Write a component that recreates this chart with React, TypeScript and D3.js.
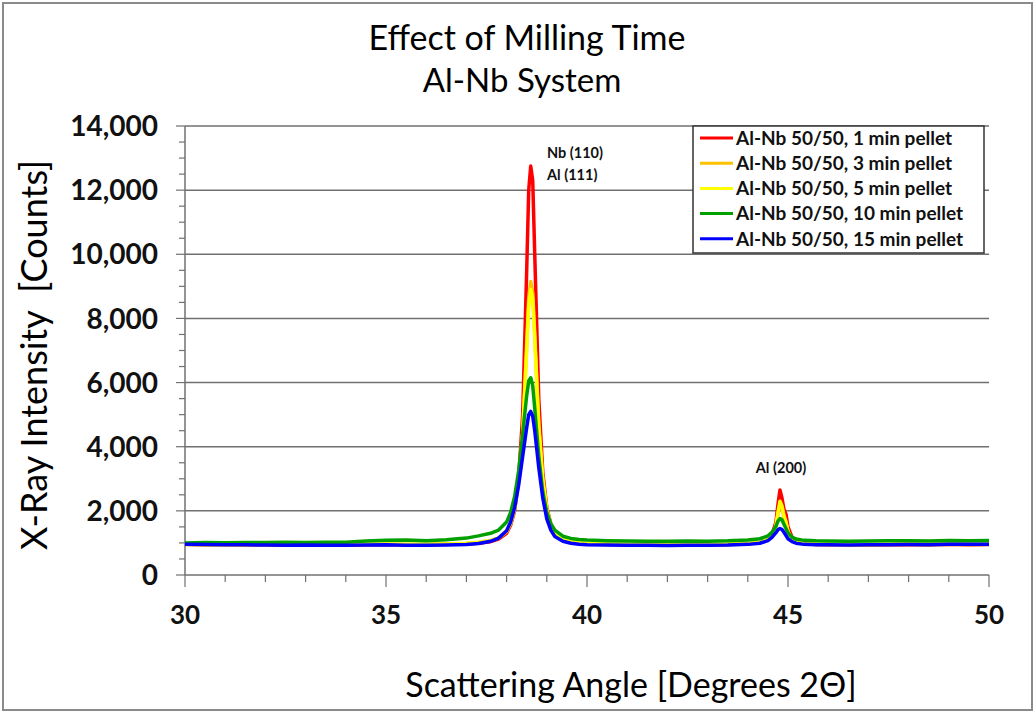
import React from 'react';
import * as d3 from 'd3';

// scattering angle samples (degrees 2-theta), shared by every series
const angles = [
  30, 30.5, 31, 31.5, 32, 32.5, 33, 33.5, 34, 34.5,
  35, 35.5, 36, 36.5, 37, 37.3, 37.6, 37.8, 38.0, 38.1,
  38.2, 38.3, 38.4, 38.5, 38.55, 38.6, 38.65, 38.7, 38.8, 38.9,
  39.0, 39.1, 39.2, 39.4, 39.6, 39.8, 40, 40.5, 41, 41.5,
  42, 42.5, 43, 43.5, 44, 44.3, 44.5, 44.6, 44.7, 44.75,
  44.8, 44.85, 44.9, 44.95, 45.0, 45.1, 45.2, 45.4, 45.7, 46,
  46.5, 47, 47.5, 48, 48.5, 49, 49.5, 50,
];

const min1 = [
  960, 940, 950, 935, 945, 930, 940, 925, 935, 945,
  950, 940, 945, 955, 970, 990, 1040, 1120, 1300, 1550,
  2000, 3000, 5000, 9500, 12000, 12750, 12300, 10000, 5500, 3200,
  2100, 1600, 1350, 1120, 1040, 1000, 970, 950, 940, 945,
  935, 940, 945, 950, 970, 1010, 1100, 1250, 1650, 2200,
  2650, 2400, 2050, 1900, 1500, 1180, 1050, 980, 950, 945,
  940, 935, 945, 950, 940, 955, 945, 950,
];

const min3 = [
  950, 945, 955, 940, 950, 940, 945, 935, 945, 955,
  960, 950, 955, 965, 985, 1010, 1070, 1150, 1350, 1600,
  2050, 2900, 4400, 7200, 8600, 9150, 8800, 7500, 4600, 2900,
  2000, 1550, 1320, 1110, 1040, 1000, 975, 955, 950, 950,
  940, 945, 950, 955, 975, 1010, 1090, 1200, 1500, 1900,
  2200, 2100, 1800, 1650, 1350, 1130, 1030, 975, 955, 950,
  945, 940, 950, 955, 945, 960, 950, 955,
];

const min5 = [
  955, 950, 945, 950, 955, 945, 950, 940, 950, 960,
  965, 955, 960, 970, 990, 1020, 1080, 1160, 1370, 1630,
  2100, 2950, 4400, 7000, 8400, 8900, 8600, 7400, 4700, 3000,
  2050, 1580, 1340, 1120, 1050, 1010, 985, 965, 955, 960,
  950, 955, 960, 965, 985, 1020, 1100, 1220, 1550, 1950,
  2300, 2150, 1850, 1650, 1350, 1140, 1040, 985, 965, 960,
  955, 950, 960, 965, 955, 970, 960, 965,
];

const min10 = [
  1000, 1010, 1005, 1015, 1010, 1020, 1015, 1025, 1020, 1060,
  1080, 1090, 1070, 1100, 1150, 1220, 1300, 1400, 1650, 1950,
  2450, 3250, 4400, 5600, 6050, 6150, 5900, 5200, 3700, 2600,
  1950, 1600, 1400, 1210, 1140, 1110, 1090, 1070, 1060, 1055,
  1050, 1060, 1055, 1065, 1090, 1130, 1220, 1330, 1520, 1680,
  1760, 1720, 1580, 1450, 1320, 1180, 1120, 1080, 1065, 1060,
  1055, 1060, 1065, 1070, 1060, 1075, 1070, 1075,
];

const min15 = [
  960, 950, 945, 940, 935, 930, 935, 925, 930, 935,
  940, 930, 925, 935, 950, 980, 1050, 1150, 1380, 1650,
  2100, 2800, 3700, 4600, 5000, 5100, 4950, 4500, 3350, 2400,
  1750, 1400, 1200, 1050, 990, 960, 945, 935, 930, 925,
  920, 925, 930, 935, 955, 990, 1070, 1170, 1320, 1410,
  1450, 1420, 1330, 1230, 1130, 1040, 990, 955, 945, 940,
  935, 940, 945, 950, 945, 960, 955, 960,
];

const seriesNames = [
  'Al-Nb 50/50, 1 min pellet',
  'Al-Nb 50/50, 3 min pellet',
  'Al-Nb 50/50, 5 min pellet',
  'Al-Nb 50/50, 10 min pellet',
  'Al-Nb 50/50, 15 min pellet',
];
const seriesValues = [min1, min3, min5, min10, min15];
const seriesColors = ['#ff0000', '#ffc000', '#ffff00', '#00a000', '#0000ff'];

const yTicks = [0, 2000, 4000, 6000, 8000, 10000, 12000, 14000];
const xTicks = [30, 35, 40, 45, 50];

const font = "Lato, 'Open Sans', sans-serif";

const App = () => {
  const x = d3.scaleLinear().domain([30, 50]).range([185, 989]);
  const y = d3.scaleLinear().domain([0, 14000]).range([575, 126]);

  const line = d3.line<number>()
    .x((d, i) => x(angles[i]))
    .y(d => y(d));

  const fmt = d3.format(',');
  const yMinor = d3.range(0, 14001, 500);
  const xMinor = d3.range(30, 51, 1);

  return (
    <svg width={1035} height={712} style={{ position: 'absolute', left: 0, top: 0 }} fontFamily={font}>
      <rect x={0} y={0} width={1035} height={712} fill='white' />
      <rect x={3} y={3} width={1029} height={707} fill='none' stroke='#8a8a8a' strokeWidth={2} />

      <text x={527} y={50} textAnchor='middle' fontSize={34} fill='#000'>Effect of Milling Time</text>
      <text x={522} y={92} textAnchor='middle' fontSize={33} fill='#000'>Al-Nb System</text>

      {yTicks.filter(t => t > 0).map(t => (
        <line key={'g' + t} x1={185} x2={989} y1={y(t)} y2={y(t)} stroke='#707070' strokeWidth={1.5} />
      ))}

      <line x1={185} x2={185} y1={126} y2={575} stroke='#707070' strokeWidth={1.5} />
      <line x1={185} x2={989} y1={575} y2={575} stroke='#707070' strokeWidth={1.5} />

      {yMinor.map(t => (
        <line key={'yt' + t} x1={t % 2000 === 0 ? 176 : 179} x2={185} y1={y(t)} y2={y(t)} stroke='#707070' strokeWidth={1.2} />
      ))}
      {xMinor.map(t => (
        <line key={'xt' + t} x1={x(t)} x2={x(t)} y1={575} y2={t % 5 === 0 ? 587 : 582} stroke='#707070' strokeWidth={1.2} />
      ))}

      {yTicks.map(t => (
        <text key={'yl' + t} x={158} y={y(t)} dy='0.36em' textAnchor='end' fontSize={28} fontWeight='bold' fill='#111'>{fmt(t)}</text>
      ))}
      {xTicks.map(t => (
        <text key={'xl' + t} x={x(t)} y={624} textAnchor='middle' fontSize={26} fontWeight='bold' fill='#111'>{t}</text>
      ))}

      <text transform='translate(47,355) rotate(-90)' textAnchor='middle' fontSize={36} fill='#000'>{'X-Ray Intensity\u00a0\u00a0[Counts]'}</text>
      <text x={631} y={697} textAnchor='middle' fontSize={34} fill='#000'>Scattering Angle [Degrees 2Θ]</text>

      {seriesValues.map((vals, i) => (
        <path key={'s' + i} d={line(vals) || ''} fill='none' stroke={seriesColors[i]} strokeWidth={3.5} strokeLinejoin='round' />
      ))}

      <text x={547} y={158} fontSize={14.5} fontWeight='bold' fill='#111'>Nb (110)</text>
      <text x={547} y={180} fontSize={14.5} fontWeight='bold' fill='#111'>Al (111)</text>
      <text x={781} y={473} textAnchor='middle' fontSize={14.5} fontWeight='bold' fill='#111'>Al (200)</text>

      <rect x={693} y={126} width={291} height={127} fill='white' stroke='#333' strokeWidth={1.5} />
      {seriesNames.map((name, i) => (
        <g key={'lg' + i} transform={`translate(0, ${138 + i * 25.2})`}>
          <line x1={700} x2={733} y1={0} y2={0} stroke={seriesColors[i]} strokeWidth={3} />
          <text x={736} y={0} dy='0.36em' fontSize={19} fontWeight='bold' fill='#111'>{name}</text>
        </g>
      ))}
    </svg>
  );
};

export default App;
